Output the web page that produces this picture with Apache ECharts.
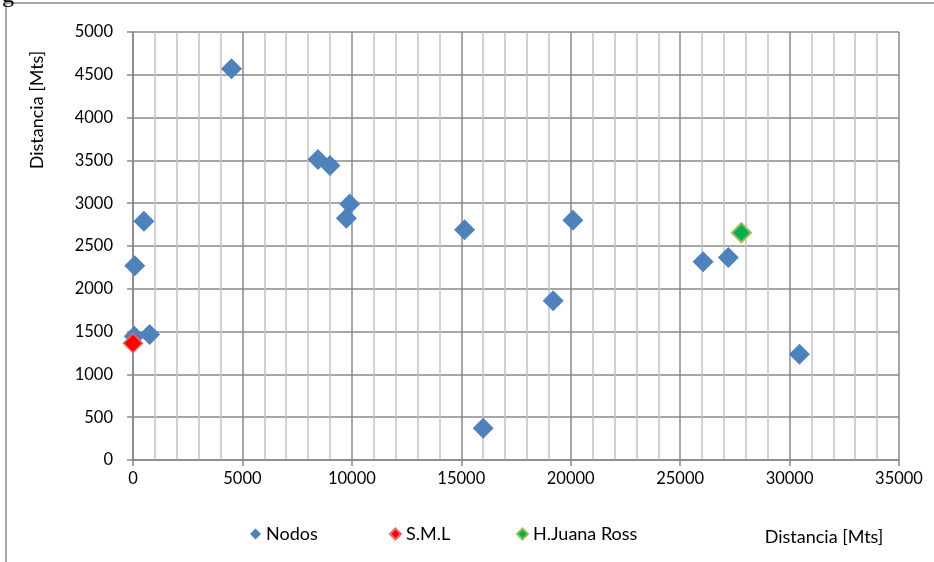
<!DOCTYPE html>
<html>
<head>
<meta charset="utf-8">
<script src="https://cdn.jsdelivr.net/npm/echarts@6/dist/echarts.min.js"></script>
<style>html,body{margin:0;padding:0;background:#fff}#c{width:934px;height:562px}</style>
</head>
<body>
<div id="c"></div>
<script>
// Data
const nodosX = [60, 500, 760, 80, 4500, 8450, 9000, 9900, 9750, 15150, 16000, 19200, 20100, 26050, 27200, 30450];
const nodosY = [1445, 2790, 1465, 2270, 4570, 3510, 3440, 2990, 2825, 2690, 370, 1860, 2800, 2315, 2365, 1235];
const smlX = [0];
const smlY = [1365];
const hjrX = [27800];
const hjrY = [2655];
const seriesNames = ['Nodos', 'S.M.L', 'H.Juana Ross'];
const xAxisTitle = 'Distancia [Mts]';
const yAxisTitle = 'Distancia [Mts]';

const zip = (xs, ys) => xs.map((x, i) => [x, ys[i]]);
const font = 'Lato, "Open Sans", sans-serif';
const textColor = '#000';
const plain = v => String(v);

const chart = echarts.init(document.getElementById('c'), null, {renderer: 'canvas'});
chart.setOption({
  animation: false,
  backgroundColor: '#fff',
  grid: {left: 133, right: 35, top: 32, bottom: 102, containLabel: false},
  xAxis: {
    type: 'value', min: 0, max: 35000, interval: 5000,
    axisLine: {show: true, onZero: false, lineStyle: {color: '#868686', width: 1.5}},
    axisTick: {show: true, length: 6, lineStyle: {color: '#868686', width: 1.5}},
    axisLabel: {color: textColor, fontFamily: font, fontSize: 16.5, margin: 10, formatter: plain},
    splitLine: {show: true, lineStyle: {color: '#8a8a8a', width: 1.5}},
    minorTick: {show: false, splitNumber: 5},
    minorSplitLine: {show: true, lineStyle: {color: '#c4c4c4', width: 1.5}}
  },
  yAxis: {
    type: 'value', min: 0, max: 5000, interval: 500,
    axisLine: {show: true, onZero: false, lineStyle: {color: '#868686', width: 1.5}},
    axisTick: {show: true, length: 6, lineStyle: {color: '#868686', width: 1.5}},
    axisLabel: {color: textColor, fontFamily: font, fontSize: 16.5, margin: 20, formatter: plain},
    splitLine: {show: true, lineStyle: {color: '#8a8a8a', width: 1.5}}
  },
  legend: [
    {data: [seriesNames[0]], left: 245, top: 520},
    {data: [seriesNames[1]], left: 384, top: 520},
    {data: [seriesNames[2]], left: 511, top: 520}
  ].map(l => Object.assign(l, {
    orient: 'horizontal', itemWidth: 11, itemHeight: 11, itemGap: 10, itemTextGap: 4,
    textStyle: {color: textColor, fontFamily: font, fontSize: 18}
  })),
  graphic: [
    {type: 'rect', shape: {x: 6, y: 3, width: 1000, height: 700}, style: {fill: 'none', stroke: '#8a8a8a', lineWidth: 1.5}, silent: true},
    {type: 'text', x: 2, y: 8, style: {text: 'g', fontSize: 24, fontFamily: '"Liberation Serif", serif', fill: '#000', verticalAlign: 'bottom'}, silent: true},
    {type: 'text', x: 824, y: 537, style: {text: xAxisTitle, fontSize: 18, fontFamily: font, fill: textColor, align: 'center', verticalAlign: 'middle'}},
    {type: 'text', x: 37, y: 110, rotation: Math.PI / 2, style: {text: yAxisTitle, fontSize: 18, fontFamily: font, fill: textColor, align: 'center', verticalAlign: 'middle'}}
  ],
  series: [
    {name: seriesNames[0], type: 'scatter', symbol: 'diamond', symbolSize: 21, data: zip(nodosX, nodosY),
     itemStyle: {color: '#4f81bd', opacity: 1}, z: 2},
    {name: seriesNames[1], type: 'scatter', symbol: 'diamond', symbolSize: 19, data: zip(smlX, smlY),
     itemStyle: {color: '#ff0000', borderColor: '#e46c6c', borderWidth: 1.5, opacity: 1}, z: 3},
    {name: seriesNames[2], type: 'scatter', symbol: 'diamond', symbolSize: 19, data: zip(hjrX, hjrY),
     itemStyle: {color: '#00b050', borderColor: '#9bbb59', borderWidth: 2, opacity: 1}, z: 3}
  ]
});
</script>
</body>
</html>
